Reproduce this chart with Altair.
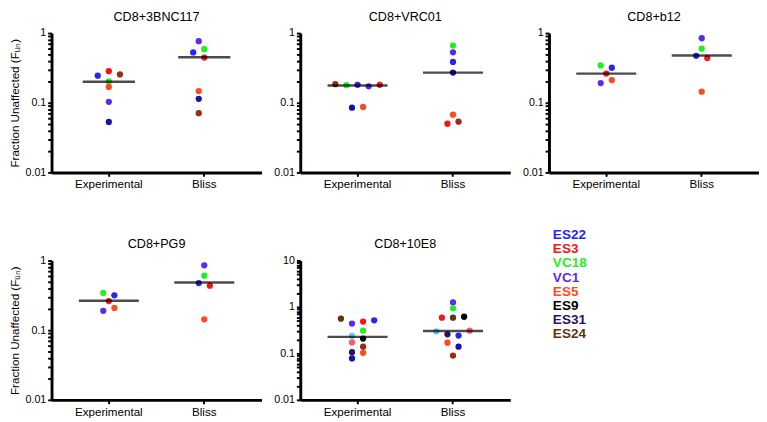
import altair as alt
import pandas as pd

FONT = "Liberation Sans"
GROUPS = ["Experimental", "Bliss"]

# colours of the individual donors/points
BLUE = "#2626f2"
RED = "#f51616"
GREEN = "#22ee22"
VIOLET = "#5a2af0"
ORANGE = "#ff4a1e"
BLACK = "#000000"
DPURPLE = "#2c1262"
BROWN = "#5e3412"
NAVY = "#1414a6"
MAROON = "#9a2c12"
LBLUE = "#66c8f8"
SALMON = "#f26262"

# ---------------- CD8+3BNC117 ----------------
P1_EXP_VAL = [0.245, 0.284, 0.255, 0.202, 0.169, 0.103, 0.053]
P1_EXP_SLOT = [-2, 0, 2, 0, 0, 0, 0]
P1_EXP_COL = [BLUE, RED, MAROON, GREEN, ORANGE, VIOLET, NAVY]
P1_BLI_VAL = [0.766, 0.527, 0.587, 0.445, 0.147, 0.114, 0.071]
P1_BLI_SLOT = [-1, -2, 0, 0, -1, -1, -1]
P1_BLI_COL = [VIOLET, BLUE, GREEN, RED, ORANGE, NAVY, MAROON]
P1_MED = [0.200, 0.450]

# ---------------- CD8+VRC01 ----------------
P2_EXP_VAL = [0.185, 0.179, 0.181, 0.172, 0.181, 0.085, 0.087]
P2_EXP_SLOT = [-4, -2, 0, 2, 4, -1, 1]
P2_EXP_COL = [MAROON, GREEN, BLUE, VIOLET, RED, NAVY, ORANGE]
P2_BLI_VAL = [0.661, 0.529, 0.385, 0.271, 0.0675, 0.050, 0.0535]
P2_BLI_SLOT = [0, 0, 0, 0, 0, -1, 1]
P2_BLI_COL = [GREEN, VIOLET, BLUE, NAVY, ORANGE, RED, MAROON]
P2_MED = [0.177, 0.271]

# ---------------- CD8+b12 ----------------
P3_EXP_VAL = [0.343, 0.318, 0.262, 0.192, 0.212]
P3_EXP_SLOT = [-1, 1, 0, -1, 1]
P3_EXP_COL = [GREEN, BLUE, RED, VIOLET, ORANGE]
P3_BLI_VAL = [0.843, 0.598, 0.472, 0.438, 0.144]
P3_BLI_SLOT = [0, 0, -1, 1, 0]
P3_BLI_COL = [VIOLET, GREEN, BLUE, RED, ORANGE]
P3_MED = [0.262, 0.477]

# ---------------- CD8+PG9 ----------------
P4_EXP_VAL = [0.342, 0.317, 0.262, 0.190, 0.209]
P4_EXP_SLOT = [-1, 1, 0, -1, 1]
P4_EXP_COL = [GREEN, BLUE, RED, VIOLET, ORANGE]
P4_BLI_VAL = [0.853, 0.607, 0.475, 0.436, 0.143]
P4_BLI_SLOT = [0, 0, -1, 1, 0]
P4_BLI_COL = [VIOLET, GREEN, BLUE, RED, ORANGE]
P4_MED = [0.265, 0.485]

# ---------------- CD8+10E8 ----------------
P5_EXP_VAL = [0.56, 0.44, 0.484, 0.516, 0.308, 0.238, 0.209, 0.172, 0.140, 0.106, 0.103, 0.078]
P5_EXP_SLOT = [-3, -1, 1, 3, 1, -1, 1, -1, 1, -1, 1, -1]
P5_EXP_COL = [BROWN, VIOLET, RED, BLUE, GREEN, LBLUE, BLACK, SALMON, MAROON, DPURPLE, ORANGE, NAVY]
P5_BLI_VAL = [1.25, 0.937, 0.587, 0.587, 0.616, 0.298, 0.308, 0.258, 0.242, 0.170, 0.140, 0.090]
P5_BLI_SLOT = [0, 0, -2, 0, 2, -3, 3, -1, 1, -1, 1, 0]
P5_BLI_COL = [VIOLET, GREEN, RED, BROWN, BLACK, LBLUE, SALMON, DPURPLE, BLUE, ORANGE, NAVY, MAROON]
P5_MED = [0.227, 0.303]

LEGEND_NAMES = ["ES22", "ES3", "VC18", "VC1", "ES5", "ES9", "ES31", "ES24"]
LEGEND_COLS = [BLUE, RED, GREEN, VIOLET, ORANGE, BLACK, DPURPLE, BROWN]

W, H = 217, 144
YTITLE = "Fraction Unaffected (F\u1d64\u2099)"


def points_df(ev, es, ec, bv, bs, bc):
    rows = []
    for v, s, c in zip(ev, es, ec):
        rows.append({"group": GROUPS[0], "value": v, "slot": s, "color": c})
    for v, s, c in zip(bv, bs, bc):
        rows.append({"group": GROUPS[1], "value": v, "slot": s, "color": c})
    return pd.DataFrame(rows)


def log_ticks(top_exp):
    vals = [round(m * 10 ** e, 6) for e in range(-2, top_exp) for m in range(1, 10)]
    vals.append(round(10 ** top_exp, 6))
    return vals


def panel(title, df, med, top_exp, show_ytitle, med_size=62):
    is_major = "abs(log(datum.value)/LN10 - round(log(datum.value)/LN10)) < 0.001"
    xenc = alt.X(
        "group:N",
        sort=GROUPS,
        title=None,
        scale=alt.Scale(domain=GROUPS, paddingInner=0, paddingOuter=0.1),
        axis=alt.Axis(
            labelAngle=0, zindex=1,
            domainColor="black", domainWidth=3,
            tickColor="black", tickSize=4, tickWidth=2,
        ),
    )
    yenc = alt.Y(
        "value:Q",
        title=YTITLE if show_ytitle else "",
        scale=alt.Scale(type="log", domain=[0.01, 10 ** top_exp], nice=False),
        axis=alt.Axis(
            values=log_ticks(top_exp),
            labelExpr=f"({is_major}) ? toString(datum.value) : ''",
            grid=False, zindex=1,
            domainColor="black", domainWidth=3,
            tickColor="black", tickSize=4, tickWidth=2,
        ),
    )
    pts = alt.Chart(df).mark_circle(size=42, opacity=1).encode(
        x=xenc,
        xOffset=alt.XOffset("slot:Q", scale=alt.Scale(domain=[-8.6, 8.6])),
        y=yenc,
        color=alt.Color("color:N", scale=None),
    )
    mdf = pd.DataFrame({"group": GROUPS, "value": med})
    ticks = alt.Chart(mdf).mark_tick(color="black", thickness=2.5, size=med_size).encode(
        x=xenc,
        y=yenc,
    )
    return alt.layer(pts, ticks).properties(
        width=W, height=H,
        title=alt.TitleParams(title, font=FONT, fontSize=13, fontWeight="normal",
                              color="black", offset=4),
    )


p1 = panel("CD8+3BNC117", points_df(P1_EXP_VAL, P1_EXP_SLOT, P1_EXP_COL, P1_BLI_VAL, P1_BLI_SLOT, P1_BLI_COL), P1_MED, 0, True, 54)
p2 = panel("CD8+VRC01", points_df(P2_EXP_VAL, P2_EXP_SLOT, P2_EXP_COL, P2_BLI_VAL, P2_BLI_SLOT, P2_BLI_COL), P2_MED, 0, False)
p3 = panel("CD8+b12", points_df(P3_EXP_VAL, P3_EXP_SLOT, P3_EXP_COL, P3_BLI_VAL, P3_BLI_SLOT, P3_BLI_COL), P3_MED, 0, False)
p4 = panel("CD8+PG9", points_df(P4_EXP_VAL, P4_EXP_SLOT, P4_EXP_COL, P4_BLI_VAL, P4_BLI_SLOT, P4_BLI_COL), P4_MED, 0, True)
p5 = panel("CD8+10E8", points_df(P5_EXP_VAL, P5_EXP_SLOT, P5_EXP_COL, P5_BLI_VAL, P5_BLI_SLOT, P5_BLI_COL), P5_MED, 1, False)

ldf = pd.DataFrame({"name": LEGEND_NAMES, "color": LEGEND_COLS, "idx": list(range(len(LEGEND_NAMES)))})
legend = alt.Chart(ldf).mark_text(
    align="left", baseline="middle", font=FONT, fontSize=14, fontWeight="bold"
).encode(
    x=alt.value(32),
    y=alt.Y("idx:Q", axis=None, scale=alt.Scale(domain=[0, 7], range=[-26, 76])),
    text="name:N",
    color=alt.Color("color:N", scale=None),
).properties(width=70, height=100)

row1 = alt.hconcat(p1, p2, p3, spacing=12)
row2 = alt.hconcat(p4, p5, legend, spacing=12)
chart = alt.vconcat(row1, row2, spacing=40).properties(
    padding={"left": 0, "top": -4, "right": 0, "bottom": 0},
    background="white",
).configure_view(stroke=None).configure_axis(
    labelFont=FONT, labelFontSize=11, labelColor="black", labelPadding=2,
    labelOverlap=False,
    titleFont=FONT, titleFontSize=12, titleFontWeight="normal", titleColor="black",
).configure_axisX(labelFontSize=12, labelPadding=3)

chart.save("out.html", embed_options={"renderer": "svg", "actions": False})
